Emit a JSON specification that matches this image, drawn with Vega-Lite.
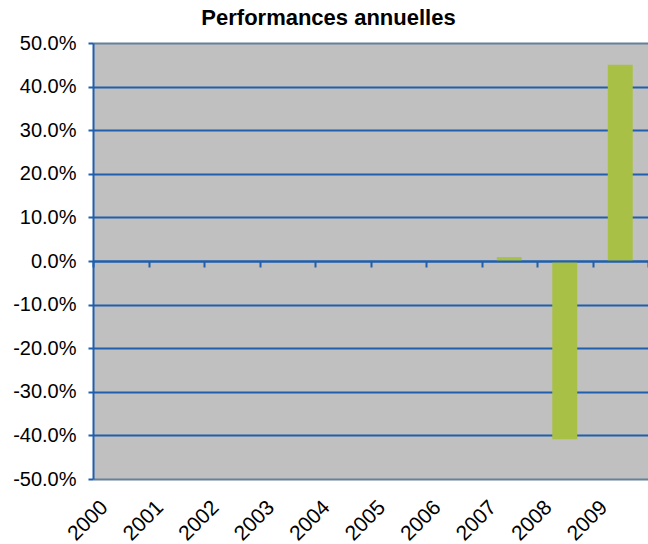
{
  "$schema": "https://vega.github.io/schema/vega-lite/v6.json",
  "width": 555,
  "height": 436,
  "autosize": "none",
  "padding": {"left": 93, "top": 43, "right": 0, "bottom": 65},
  "background": "white",
  "config": {"view": {"fill": "#C0C0C0", "stroke": null}, "font": "Liberation Sans"},
  "title": {"text": "Performances annuelles", "font": "Liberation Sans", "fontSize": 22, "fontWeight": "bold", "color": "black", "anchor": "middle", "offset": 14, "dy": 11, "dx": -42, "limit": 0},
  "data": {"values": [
    {"year": "2000", "perf": null},
    {"year": "2001", "perf": null},
    {"year": "2002", "perf": null},
    {"year": "2003", "perf": null},
    {"year": "2004", "perf": null},
    {"year": "2005", "perf": null},
    {"year": "2006", "perf": null},
    {"year": "2007", "perf": 0.009},
    {"year": "2008", "perf": -0.409},
    {"year": "2009", "perf": 0.45}
  ]},
  "layer": [
    {
      "mark": {"type": "bar", "width": {"band": 0.45}, "color": "#A9C046"},
      "encoding": {
        "x": {"field": "year", "type": "nominal", "sort": null,
          "scale": {"domain": ["2000","2001","2002","2003","2004","2005","2006","2007","2008","2009"], "paddingInner": 0, "paddingOuter": 0},
          "axis": {"orient": "bottom", "title": null, "domain": false, "ticks": false, "grid": false, "labelAngle": -45, "labelAlign": "right", "labelBaseline": "middle", "labelPadding": 25, "labelOffset": -16, "labelFontSize": 21, "labelColor": "black", "labelFont": "Liberation Sans"}},
        "y": {"field": "perf", "type": "quantitative",
          "scale": {"domain": [-0.5, 0.5], "nice": false, "zero": false},
          "axis": {"title": null, "values": [-0.5,-0.4,-0.3,-0.2,-0.1,0,0.1,0.2,0.3,0.4,0.5], "format": ".1%", "labelExpr": "replace(datum.label, '−', '-')", "labelFontSize": 20, "labelColor": "black", "labelFont": "Liberation Sans", "labelPadding": 12, "domain": true, "domainColor": "#1F5FAD", "domainWidth": 2, "ticks": true, "tickColor": "#1F5FAD", "tickWidth": 2, "tickSize": 5, "grid": true, "gridWidth": 2, "gridOpacity": 1,
            "gridColor": {"condition": {"test": "abs(datum.value) > 0.49", "value": "#64809A"}, "value": "#1F5FAD"}}}
      }
    },
    {
      "mark": {"type": "bar", "opacity": 0},
      "encoding": {
        "x": {"field": "year", "type": "nominal", "sort": null,
          "axis": {"orient": "bottom", "offset": -218, "title": null, "labels": false, "grid": false, "domain": true, "domainColor": "#1F5FAD", "domainWidth": 2, "ticks": true, "tickBand": "extent", "tickColor": "#1F5FAD", "tickWidth": 2, "tickSize": 6, "zindex": 1}},
        "y": {"field": "perf", "type": "quantitative"}
      }
    }
  ],
  "resolve": {"axis": {"x": "independent"}}
}
